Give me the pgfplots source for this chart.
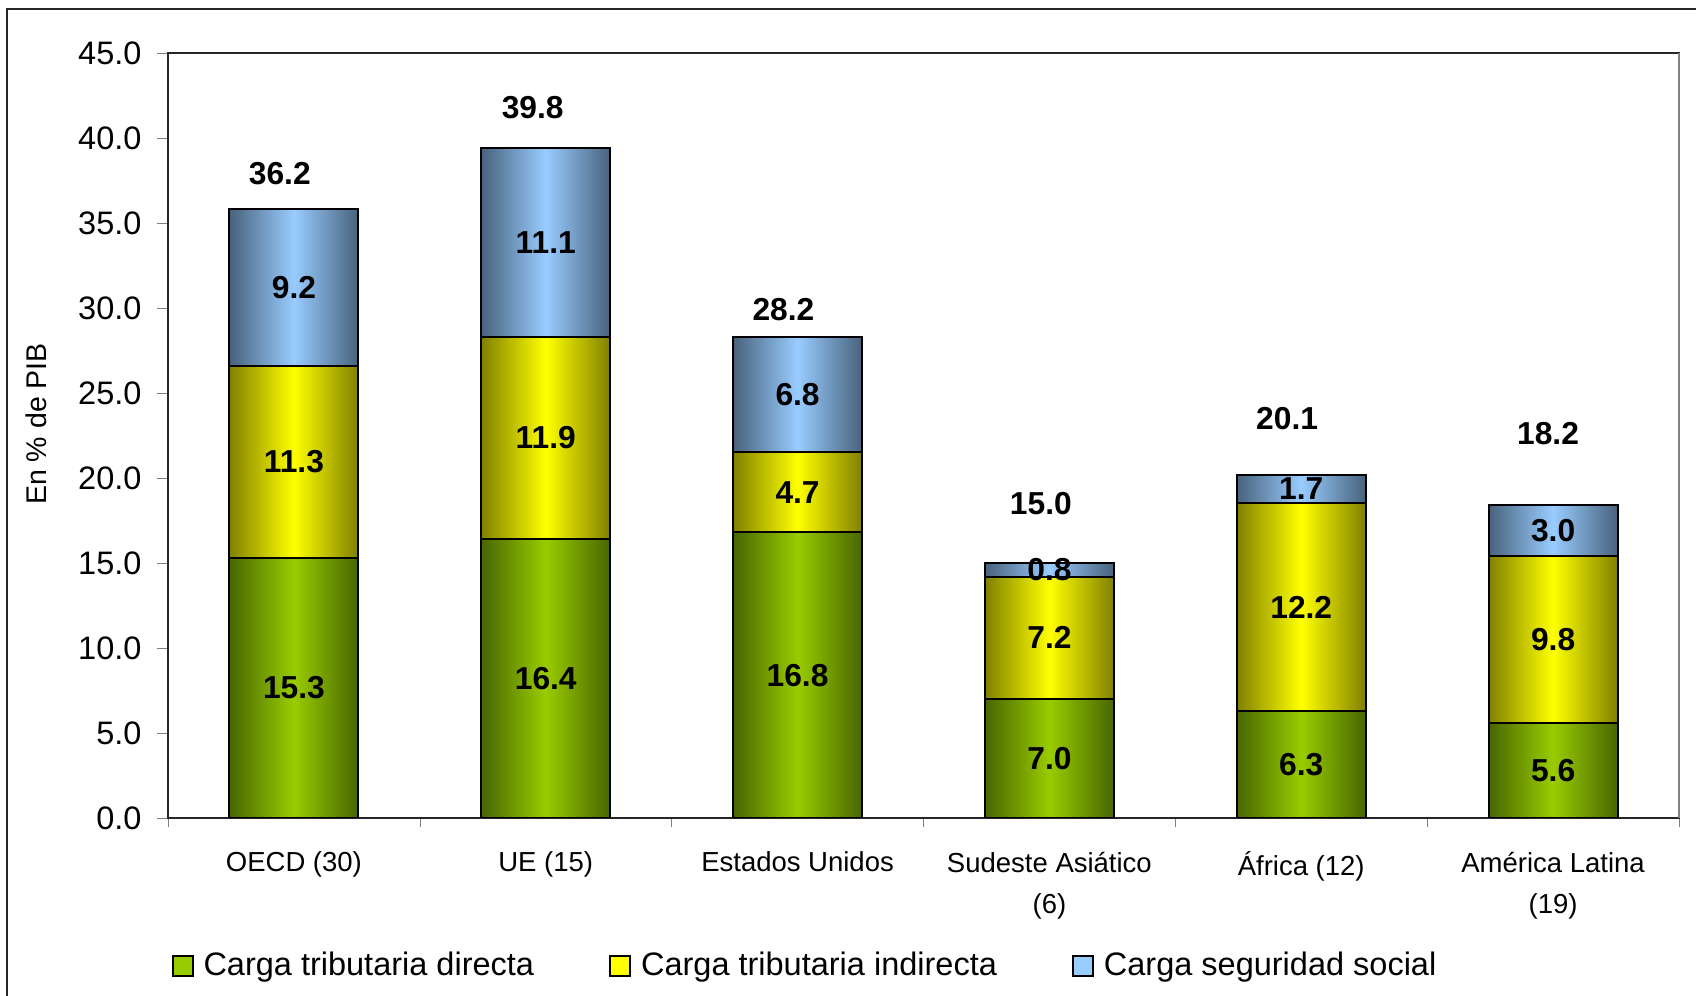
\documentclass[border=0pt]{standalone}
\usepackage{pgfplots}
\pgfplotsset{compat=1.18}
\usepackage{pgfplotstable}
\usepackage{fontspec}
\setmainfont{Liberation Sans}

\definecolor{gmid}{RGB}{153,204,0}
\definecolor{gedge}{RGB}{72,102,0}
\definecolor{ymid}{RGB}{255,255,0}
\definecolor{yedge}{RGB}{128,128,0}
\definecolor{bmid}{RGB}{153,204,255}
\definecolor{bedge}{RGB}{72,98,124}

\pgfplotstableread{
x directa indirecta social
0 15.3 11.3 9.2
1 16.4 11.9 11.1
2 16.8 4.7 6.8
3 7.0 7.2 0.8
4 6.3 12.2 1.7
5 5.6 9.8 3.0
}\datatab

\pgfplotstableread{
x y label
-0.056 37.9 36.2
0.948 41.8 39.8
1.944 29.9 28.2
2.966 18.5 15.0
3.944 23.5 20.1
4.980 22.6 18.2
}\totaltab

\pgfplotsset{
  common/.style={
    scale only axis,
    width=604.4pt, height=306pt,
    at={(67.2pt,71.2pt)}, anchor=south west,
    xmin=-0.5, xmax=5.5, ymin=0, ymax=45,
    /pgf/number format/assume math mode=true,
  },
  seglabel/.style={
    visualization depends on={\thisrow{#1} \as \rawy},
    nodes near coords={\pgfmathprintnumber[fixed,precision=1,zerofill,assume math mode=true]{\rawy}},
    every node near coord/.style={anchor=center,
      font=\fontsize{12.7}{14}\selectfont\bfseries, text=black, inner sep=0pt},
  },
  segbar/.style n args={2}{draw=black, line width=0.8pt, left color=#1, right color=#1, middle color=#2},
}

\newcommand\bargroup[1]{%
\begin{axis}[
  common, hide axis,
  ybar stacked, bar width=0.512,
  restrict expr to domain={\coordindex}{#1:#1},
]
\addplot[segbar={gedge}{gmid}, seglabel=directa] table[x=x, y=directa]{\datatab};
\addplot[segbar={yedge}{ymid}, seglabel=indirecta] table[x=x, y=indirecta]{\datatab};
\addplot[segbar={bedge}{bmid}, seglabel=social] table[x=x, y=social]{\datatab};
\end{axis}}

\begin{document}
\begin{tikzpicture}
\useasboundingbox (0,0) rectangle (678.4pt,398.4pt);
\draw[line width=0.6pt, black!85] (2.8pt,-20pt) -- (2.8pt,394.8pt) -- (700pt,394.8pt);
\begin{axis}[
  common,
  axis line style={black!85, line width=0.6pt},
  tick pos=left, tick align=outside,
  major tick length=4.4pt,
  minor tick length=3.6pt,
  ytick={0,5,...,45},
  /pgf/number format/fixed, /pgf/number format/precision=1, /pgf/number format/fixed zerofill,
  yticklabel style={font=\fontsize{13}{15}\selectfont, inner sep=0pt, xshift=-6pt},
  xtick={0,...,5},
  minor xtick={-0.5,0.5,...,5.5},
  major x tick style={draw=none},
  xticklabels={{OECD (30)},{UE (15)},{Estados Unidos},{Sudeste Asiático\\(6)},{África (12)},{América Latina\\(19)}},
  xticklabel style={align=center, font=\fontsize{11}{16.4}\selectfont, inner sep=0pt, anchor=north, yshift=-9pt},
  ylabel={En \% de PIB},
  ylabel style={at={(axis description cs:-0.0874,0.515)}, anchor=center, font=\fontsize{11.4}{13}\selectfont},
  legend style={draw=none, at={(axis description cs:0.002,-0.1935)}, anchor=west,
    legend columns=3, font=\fontsize{13}{15}\selectfont,
    /tikz/every even column/.append style={column sep=28pt},
    /tikz/every odd column/.append style={column sep=2pt},
    inner sep=0pt},
  legend cell align=left,
  after end axis/.code={\draw[gray, line width=0.8pt] (rel axis cs:1,0) -- (rel axis cs:1,1);},
]
\addlegendimage{legend image code/.code={\draw[black, line width=0.8pt, fill=gmid] (0pt,-4pt) rectangle (8pt,4pt);}}
\addlegendentry{Carga tributaria directa}
\addlegendimage{legend image code/.code={\draw[black, line width=0.8pt, fill=ymid] (0pt,-4pt) rectangle (8pt,4pt);}}
\addlegendentry{Carga tributaria indirecta}
\addlegendimage{legend image code/.code={\draw[black, line width=0.8pt, fill=bmid] (0pt,-4pt) rectangle (8pt,4pt);}}
\addlegendentry{Carga seguridad social}
\end{axis}
\bargroup{0}
\bargroup{1}
\bargroup{2}
\bargroup{3}
\bargroup{4}
\bargroup{5}
\begin{axis}[
  common, hide axis,
]
\addplot[only marks, mark=none, nodes near coords, point meta=explicit symbolic,
  every node near coord/.append style={anchor=center, font=\fontsize{12.7}{14}\selectfont\bfseries, text=black}]
  table[x=x, y=y, meta=label]{\totaltab};
\end{axis}
\end{tikzpicture}
\end{document}
